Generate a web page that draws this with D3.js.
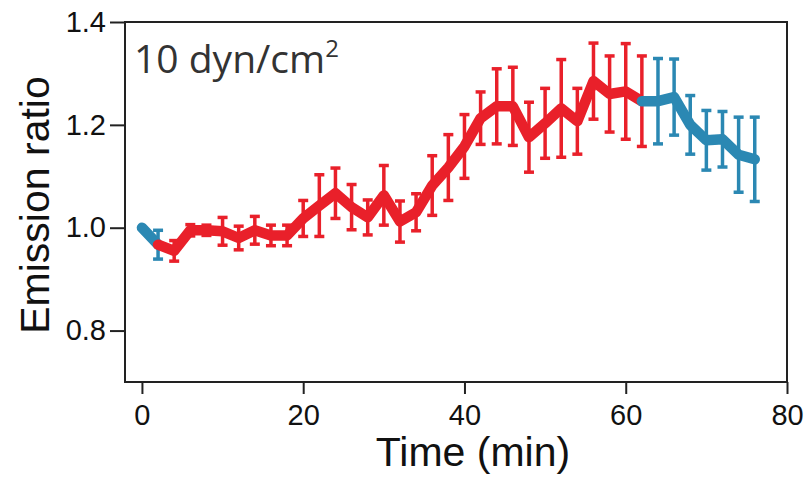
<!DOCTYPE html>
<html>
<head>
<meta charset="utf-8">
<script src="https://cdn.jsdelivr.net/npm/d3@7"></script>
<style>
  body { margin: 0; background: #fff; }
  text { font-family: "Liberation Sans", Arial, sans-serif; }
</style>
</head>
<body>
<svg width="808" height="484"></svg>
<script>
var WIDTH = 808;
var HEIGHT = 484;

// time points (min), mean emission ratio and error (half bar)
var times = [0, 2, 4, 6, 8, 10, 12, 14, 16, 18, 20, 22, 24, 26, 28, 30, 32, 34, 36, 38,
             40, 42, 44, 46, 48, 50, 52, 54, 56, 58, 60, 62, 64, 66, 68, 70, 72, 74, 76];
var ratio = [1.0, 0.967, 0.955, 0.995, 0.995, 0.993, 0.98, 0.995, 0.985, 0.985, 1.018, 1.043,
             1.067, 1.04, 1.02, 1.063, 1.012, 1.03, 1.082, 1.117, 1.158, 1.213, 1.236, 1.236,
             1.176, 1.203, 1.232, 1.207, 1.285, 1.26, 1.265, 1.246, 1.246, 1.254, 1.2, 1.17,
             1.172, 1.142, 1.133];
var err = [0, 0.028, 0.02, 0.011, 0.01, 0.027, 0.023, 0.027, 0.02, 0.02, 0.035, 0.06,
           0.049, 0.044, 0.034, 0.058, 0.04, 0.036, 0.058, 0.064, 0.062, 0.051, 0.073, 0.076,
           0.068, 0.068, 0.095, 0.064, 0.074, 0.074, 0.093, 0.088, 0.083, 0.074, 0.057, 0.058,
           0.054, 0.073, 0.082];
// shear on between these times
var flowStart = 2;
var flowEnd = 62;

var xTicks = [0, 20, 40, 60, 80];
var yTicks = [0.8, 1.0, 1.2, 1.4];

var RED = '#e9202a';
var BLUE = '#2b88b3';

var margin = { left: 125, right: 21, top: 22, bottom: 102 };

var x = d3.scaleLinear().domain([-2.1, 80]).range([margin.left, WIDTH - margin.right]);
var y = d3.scaleLinear().domain([0.7, 1.4]).range([HEIGHT - margin.bottom, margin.top]);

var svg = d3.select('svg');

var data = times.map(function(t, i) {
    return { t: t, v: ratio[i], e: err[i] };
});

function inFlow(d) { return d.t > flowStart && d.t <= flowEnd; }

var line = d3.line()
    .x(function(d) { return x(d.t); })
    .y(function(d) { return y(d.v); });

// error bars
var bars = svg.append('g').selectAll('g')
    .data(data.filter(function(d) { return d.e > 0; }))
    .enter().append('g')
    .attr('stroke', function(d) { return inFlow(d) ? RED : BLUE; })
    .attr('stroke-width', 3.5);
bars.append('line')
    .attr('x1', function(d) { return x(d.t); })
    .attr('x2', function(d) { return x(d.t); })
    .attr('y1', function(d) { return y(d.v - d.e); })
    .attr('y2', function(d) { return y(d.v + d.e); });
bars.append('line')
    .attr('x1', function(d) { return x(d.t) - 5; })
    .attr('x2', function(d) { return x(d.t) + 5; })
    .attr('y1', function(d) { return y(d.v + d.e); })
    .attr('y2', function(d) { return y(d.v + d.e); });
bars.append('line')
    .attr('x1', function(d) { return x(d.t) - 5; })
    .attr('x2', function(d) { return x(d.t) + 5; })
    .attr('y1', function(d) { return y(d.v - d.e); })
    .attr('y2', function(d) { return y(d.v - d.e); });

// mean lines
var segments = [
    { color: BLUE, pts: data.filter(function(d) { return d.t <= flowStart; }) },
    { color: RED, pts: data.filter(function(d) { return d.t >= flowStart && d.t <= flowEnd; }) },
    { color: BLUE, pts: data.filter(function(d) { return d.t >= flowEnd; }) }
];
svg.append('g').selectAll('path')
    .data(segments)
    .enter().append('path')
    .attr('d', function(d) { return line(d.pts); })
    .attr('fill', 'none')
    .attr('stroke', function(d) { return d.color; })
    .attr('stroke-width', 10.5)
    .attr('stroke-linejoin', 'round')
    .attr('stroke-linecap', 'round');

// frame
svg.append('rect')
    .attr('x', margin.left)
    .attr('y', margin.top)
    .attr('width', WIDTH - margin.right - margin.left)
    .attr('height', HEIGHT - margin.bottom - margin.top)
    .attr('fill', 'none')
    .attr('stroke', '#222')
    .attr('stroke-width', 2);

// axes
var yAxis = svg.append('g')
    .attr('transform', 'translate(' + margin.left + ',0)')
    .call(d3.axisLeft(y).tickValues(yTicks).tickFormat(d3.format('.1f')).tickSize(15).tickPadding(4));
var xAxis = svg.append('g')
    .attr('transform', 'translate(0,' + (HEIGHT - margin.bottom) + ')')
    .call(d3.axisBottom(x).tickValues(xTicks).tickSize(12).tickPadding(10));

[xAxis, yAxis].forEach(function(ax) {
    ax.select('.domain').remove();
    ax.selectAll('line').attr('stroke', '#222').attr('stroke-width', 2);
    ax.selectAll('text')
        .attr('fill', '#111')
        .style('font-size', '29px')
        .style('font-family', '"Liberation Sans", Arial, sans-serif');
});

// axis titles
svg.append('text')
    .attr('x', 473)
    .attr('y', 466)
    .attr('text-anchor', 'middle')
    .attr('fill', '#111')
    .style('font-size', '41px')
    .text('Time (min)');
svg.append('text')
    .attr('transform', 'translate(49,205) rotate(-90)')
    .attr('text-anchor', 'middle')
    .attr('fill', '#111')
    .style('font-size', '41px')
    .text('Emission ratio');

// condition label
var lbl = svg.append('text')
    .attr('x', 134)
    .attr('y', 73)
    .attr('fill', '#333')
    .style('font-family', '"Open Sans", sans-serif')
    .style('font-size', '39px');
lbl.append('tspan').text('10 dyn/cm');
lbl.append('tspan').attr('dy', -16).style('font-size', '24px').text('2');
</script>
</body>
</html>
